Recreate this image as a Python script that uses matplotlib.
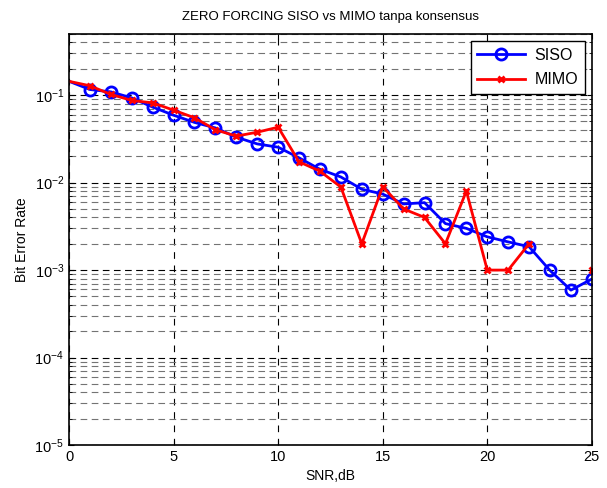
import numpy as np
import matplotlib.pyplot as plt
from matplotlib.ticker import LogLocator, NullFormatter

plt.rcParams['font.family'] = ['Liberation Sans', 'DejaVu Sans']

snr = list(range(0, 26))
ber_siso = [0.144, 0.116, 0.109, 0.093, 0.073, 0.059, 0.0488, 0.0422, 0.0331, 0.0277,
            0.0254, 0.0192, 0.0142, 0.0116, 0.0084, 0.0074, 0.0057, 0.0059, 0.0034, 0.0030,
            0.0024, 0.0021, 0.00185, 0.00099, 0.00059, 0.00079]
# nan = zero errors (not shown on log axis)
ber_mimo = [0.144, 0.128, 0.102, 0.087, 0.0816, 0.0674, 0.0551, 0.0402, 0.034, 0.0377,
            0.043, 0.0173, 0.0135, 0.0089, 0.002, 0.009, 0.005, 0.004, 0.002, 0.008,
            0.001, 0.001, 0.002, np.nan, np.nan, 0.001]

fig = plt.figure(figsize=(6.07, 4.88), dpi=100)
ax = fig.add_axes([0.1137, 0.0881, 0.8613, 0.8422])

# no marker on the first point (snr=0)
mk = list(range(1, len(snr)))
ax.semilogy(snr, ber_siso, color='blue', lw=2, marker='o', ms=8, mfc='none', mew=2,
            markevery=mk, label='SISO')
ax.semilogy(snr, ber_mimo, color='red', lw=2, marker='x', ms=4, mew=2,
            markevery=mk, label='MIMO')

ax.set_xlim(0, 25)
ax.set_ylim(1e-5, 0.5)
ax.set_xticks([0, 5, 10, 15, 20, 25])
ax.yaxis.set_major_locator(LogLocator(base=10, numticks=10))
ax.yaxis.set_minor_locator(LogLocator(base=10, subs=np.arange(2, 10), numticks=20))
ax.yaxis.set_minor_formatter(NullFormatter())

ax.grid(True, which='major', axis='x', color='black', ls=(0, (6, 6)), lw=0.8)
ax.grid(True, which='major', axis='y', color='black', ls=(0, (6, 4)), lw=0.8)
ax.grid(True, which='minor', axis='y', color='0.45', ls=(0, (6, 4)), lw=0.8)

ax.tick_params(which='both', direction='in', top=True, right=True, labelsize=10.5)
for s in ax.spines.values():
    s.set_linewidth(1.2)

ax.set_title('ZERO FORCING SISO vs MIMO tanpa konsensus', fontsize=9.5, pad=10)
ax.set_xlabel('SNR,dB', fontsize=10)
ax.set_ylabel('Bit Error Rate', fontsize=10)

leg = ax.legend(loc='upper right', fontsize=11.5, fancybox=False, framealpha=1,
                edgecolor='black', borderaxespad=0.45, handlelength=3.0,
                borderpad=0.4, labelspacing=0.6, handletextpad=0.6)
leg.get_frame().set_linewidth(1)

fig.savefig('out.png', dpi=100)
